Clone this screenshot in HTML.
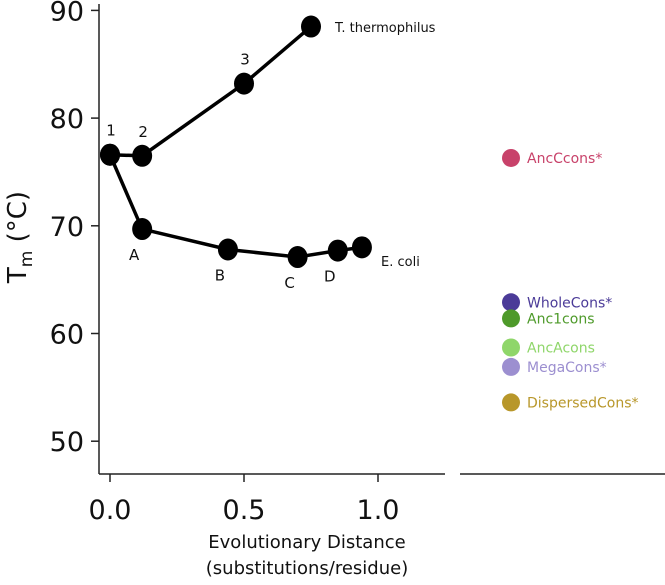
<!DOCTYPE html>
<html><head><meta charset="utf-8"><style>
body{margin:0;background:#fff;width:665px;height:580px;overflow:hidden}
svg{font-family:"DejaVu Sans","Liberation Sans",sans-serif}
</style></head><body>
<svg id="chart" width="665" height="580"></svg>
<script>
const xTicks=[0.0,0.5,1.0];
const xTickLabels=["0.0","0.5","1.0"];
const yTicks=[50,60,70,80,90];
const thermoX=[0,0.12,0.5,0.75];
const thermoY=[76.6,76.5,83.2,88.5];
const thermoLabels=["1","2","3",""];
const coliX=[0,0.12,0.44,0.7,0.85,0.94];
const coliY=[76.6,69.7,67.8,67.1,67.7,68.0];
const coliLabels=["","A","B","C","D",""];
const consNames=["AncCcons*","WholeCons*","Anc1cons","AncAcons","MegaCons*","DispersedCons*"];
const consY=[76.3,62.9,61.4,58.7,56.9,53.6];
const consColors=["#c8426a","#4b3b98","#4e9a2a","#8fd66a","#9c8fd0","#b8972a"];

const NS="http://www.w3.org/2000/svg";
const svg=document.getElementById('chart');
const sx=v=>110+v*268;
const sy=v=>10.4+(90-v)*10.77;
function mk(tag,attrs,parent){const e=document.createElementNS(NS,tag);for(const k in attrs)e.setAttribute(k,attrs[k]);(parent||svg).appendChild(e);return e;}
function txt(s,attrs){const e=mk('text',attrs);e.textContent=s;return e;}

let a=mk('line',{x1:99,y1:4,x2:99,y2:474,stroke:'#222','stroke-width':1.5});


a=mk('line',{x1:99,y1:474,x2:445,y2:474,stroke:'#222','stroke-width':1.5});


yTicks.forEach(v=>{
  const l=mk('line',{x1:91,y1:sy(v),x2:99,y2:sy(v),stroke:'#222','stroke-width':1.5});
  
  
  const t=txt(String(v),{x:84,y:sy(v)+10,'text-anchor':'end','font-size':27,fill:'#111'});
  
  
});
xTicks.forEach((v,i)=>{
  const l=mk('line',{x1:sx(v),y1:474,x2:sx(v),y2:482,stroke:'#222','stroke-width':1.5});
  
  
  const t=txt(xTickLabels[i],{x:sx(v),y:519,'text-anchor':'middle','font-size':27,fill:'#111'});
  
  
});
let t=txt('Evolutionary Distance',{x:307,y:548,'text-anchor':'middle','font-size':18,fill:'#111'});


t=txt('(substitutions/residue)',{x:307,y:574,'text-anchor':'middle','font-size':18,fill:'#111'});


t=mk('text',{transform:'translate(26,237) rotate(-90)','text-anchor':'middle','font-size':26,fill:'#111'});
t.innerHTML='T<tspan font-size="17" dy="6">m</tspan><tspan dy="-6"> (°C)</tspan>';



function series(xs,ys,labels,name,below){
  const p=mk('polyline',{points:xs.map((x,i)=>sx(x)+','+sy(ys[i])).join(' '),fill:'none',stroke:'#000','stroke-width':3.5});
  
  
  xs.forEach((x,i)=>{
    const c=mk('ellipse',{cx:sx(x),cy:sy(ys[i]),rx:10,ry:11,fill:'#000'});
    
    
    if(labels[i]){
      const lt=txt(labels[i],{x:sx(x)-(below?8:-1),y:below?sy(ys[i])+31:sy(ys[i])-19,'text-anchor':'middle','font-size':15,fill:'#111'});
      
      
    }
  });
}
series(coliX,coliY,coliLabels,'e-coli',true);
series(thermoX,thermoY,thermoLabels,'t-thermophilus',false);
t=txt('T. thermophilus',{x:335,y:32,'font-size':13,fill:'#111'});


t=txt('E. coli',{x:381,y:266,'font-size':13,fill:'#111'});



a=mk('line',{x1:460,y1:474,x2:665,y2:474,stroke:'#222','stroke-width':1.5});


consNames.forEach((n,i)=>{
  const c=mk('circle',{cx:511,cy:sy(consY[i]),r:9,fill:consColors[i]});
  
  
  const lt=txt(n,{x:527,y:sy(consY[i])+5,'font-size':14,fill:consColors[i]});
  
  
});
</script>
</body></html>
